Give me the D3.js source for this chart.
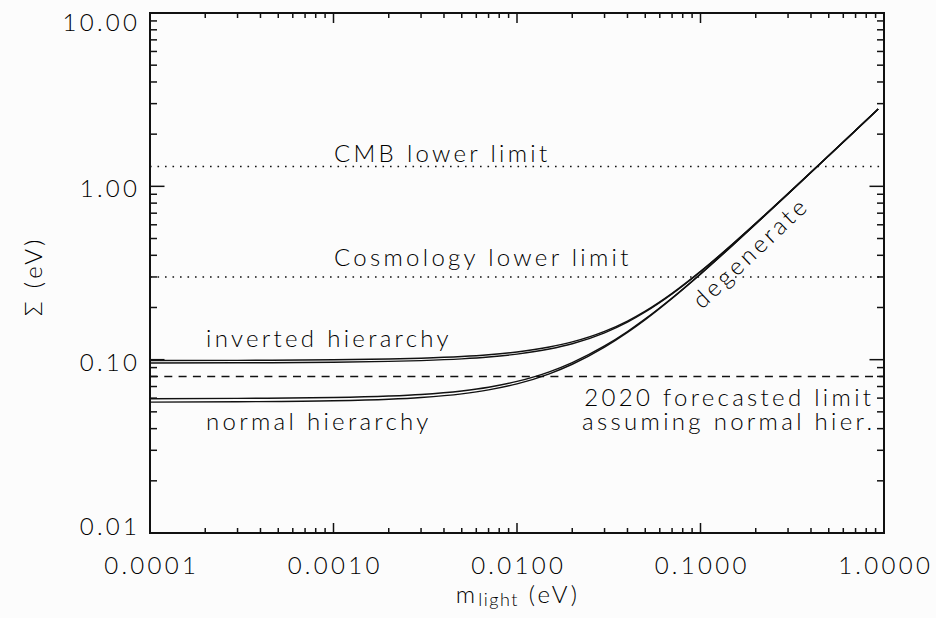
<!DOCTYPE html>
<html>
<head>
<meta charset="utf-8">
<script src="https://cdn.jsdelivr.net/npm/d3@7"></script>
<style>
  html, body { margin: 0; padding: 0; background: #fcfcfc; }
  svg { display: block; }
  text { font-family: "Lato", "DejaVu Sans", sans-serif; font-weight: 300; fill: #000; }
</style>
</head>
<body>
<div id="chart"></div>
<script>
// lightest neutrino mass (eV) sampled along the curves
const mLight = [0.0001, 0.0003, 0.001, 0.002, 0.003, 0.005, 0.007, 0.01, 0.015, 0.02,
  0.03, 0.04, 0.05, 0.07, 0.1, 0.15, 0.2, 0.3, 0.5, 0.7, 0.93];

// sum of masses (eV), two edges of each band
const invertedUpper = [0.0989, 0.0991, 0.0998, 0.1009, 0.1020, 0.1043, 0.1068, 0.1108, 0.1183, 0.1266,
  0.1456, 0.1671, 0.1906, 0.2414, 0.3231, 0.4659, 0.6120, 0.9081, 1.5049, 2.1035, 2.7926];
const invertedLower = [0.0957, 0.0959, 0.0966, 0.0977, 0.0988, 0.1011, 0.1036, 0.1077, 0.1152, 0.1236,
  0.1429, 0.1647, 0.1884, 0.2395, 0.3217, 0.4649, 0.6113, 0.9076, 1.5046, 2.1033, 2.7925];
const normalUpper = [0.0595, 0.0598, 0.0605, 0.0617, 0.0630, 0.0660, 0.0693, 0.0749, 0.0851, 0.0962,
  0.1200, 0.1454, 0.1719, 0.2269, 0.3124, 0.4585, 0.6065, 0.9044, 1.5026, 2.1019, 2.7914];
const normalLower = [0.0569, 0.0572, 0.0579, 0.0591, 0.0605, 0.0635, 0.0669, 0.0725, 0.0829, 0.0941,
  0.1182, 0.1437, 0.1703, 0.2257, 0.3115, 0.4579, 0.6060, 0.9040, 1.5024, 2.1017, 2.7913];

// horizontal limits
const limitValues = [1.3, 0.3, 0.08];
const limitStyles = ["dot", "dot", "dash"];

const xTickValues = [0.0001, 0.001, 0.01, 0.1, 1];
const xTickLabels = ["0.0001", "0.0010", "0.0100", "0.1000", "1.0000"];
const yTickValues = [0.01, 0.1, 1, 10];
const yTickLabels = ["0.01", "0.10", "1.00", "10.00"];

const W = 936, H = 618;
const margin = { left: 150, right: 52, top: 13, bottom: 85 };
const plotW = W - margin.left - margin.right;
const plotH = H - margin.top - margin.bottom;

const x = d3.scaleLog().domain([0.0001, 1]).range([0, plotW]);
const y = d3.scaleLog().domain([0.01, 10]).range([plotH, 0]);

const svg = d3.select("#chart").append("svg").attr("width", W).attr("height", H);
svg.append("rect").attr("width", W).attr("height", H).attr("fill", "#fcfcfc");

const g = svg.append("g").attr("transform", `translate(${margin.left},${margin.top})`);

const fs = 24;   // font size
const ls = 3.3;  // letter spacing (wide, like the plotting font)

// minor + major tick values for log axes
function logTicks(lo, hi) {
  const out = [];
  for (let e = Math.log10(lo); e < Math.log10(hi); e++) {
    for (let k = 1; k <= 9; k++) out.push({ v: k * Math.pow(10, e), major: k === 1 });
  }
  out.push({ v: hi, major: true });
  return out;
}
const xt = logTicks(0.0001, 1);
const yt = logTicks(0.01, 10);

const tickStroke = "#111";
// bottom + top ticks
xt.forEach(t => {
  const len = t.major ? 10 : 5;
  const px = x(t.v);
  g.append("line").attr("x1", px).attr("x2", px).attr("y1", plotH).attr("y2", plotH - len)
    .attr("stroke", tickStroke).attr("stroke-width", 1.5);
  g.append("line").attr("x1", px).attr("x2", px).attr("y1", 0).attr("y2", len)
    .attr("stroke", tickStroke).attr("stroke-width", 1.5);
});
// left + right ticks
yt.forEach(t => {
  const len = t.major ? 14.5 : 7;
  const py = y(t.v);
  g.append("line").attr("x1", 0).attr("x2", len).attr("y1", py).attr("y2", py)
    .attr("stroke", tickStroke).attr("stroke-width", 1.5);
  g.append("line").attr("x1", plotW).attr("x2", plotW - len).attr("y1", py).attr("y2", py)
    .attr("stroke", tickStroke).attr("stroke-width", 1.5);
});

// frame
g.append("rect").attr("width", plotW).attr("height", plotH)
  .attr("fill", "none").attr("stroke", "#111").attr("stroke-width", 2);

// tick labels
xTickValues.forEach((v, i) => {
  g.append("text").attr("x", x(v) + ls / 2).attr("y", plotH + 41)
    .attr("text-anchor", "middle").attr("font-size", fs).style("letter-spacing", ls + "px")
    .text(xTickLabels[i]);
});
yTickValues.forEach((v, i) => {
  const base = Math.min(Math.max(y(v) + 11, 18), plotH + 2);
  g.append("text").attr("x", -13 + ls).attr("y", base)
    .attr("text-anchor", "end").attr("font-size", fs).style("letter-spacing", ls + "px")
    .text(yTickLabels[i]);
});

// limit lines
limitValues.forEach((v, i) => {
  g.append("line").attr("x1", 0).attr("x2", plotW).attr("y1", y(v)).attr("y2", y(v))
    .attr("stroke", "#111").attr("stroke-width", 1.5)
    .attr("stroke-dasharray", limitStyles[i] === "dot" ? "1.6,5.9" : "8,6.3");
});

// curves
const line = d3.line().x(d => x(d[0])).y(d => y(d[1])).curve(d3.curveMonotoneX);
[invertedUpper, invertedLower, normalUpper, normalLower].forEach(s => {
  g.append("path").datum(mLight.map((m, i) => [m, s[i]]))
    .attr("d", line).attr("fill", "none").attr("stroke", "#111").attr("stroke-width", 1.4);
});

// annotations
function label(txt, px, py, anchor) {
  const a = anchor || "start";
  return svg.append("text").attr("x", a === "end" ? px + ls : px).attr("y", py).attr("text-anchor", a)
    .attr("font-size", fs).style("letter-spacing", ls + "px").text(txt);
}
label("CMB lower limit", 334, 162);
label("Cosmology lower limit", 334, 266);
label("inverted hierarchy", 206, 347);
label("normal hierarchy", 206, 430);
label("2020 forecasted limit", 871, 406, "end");
label("assuming normal hier.", 872, 430, "end");

const slope = Math.atan2(y(0.1) - y(1), x(1) - x(0.1)) * 180 / Math.PI;
svg.append("text").attr("transform", `translate(702,310) rotate(${-slope})`)
  .attr("font-size", fs).style("letter-spacing", ls + "px").text("degenerate");

// axis titles
const xTitle = svg.append("text").attr("x", 518).attr("y", 603).attr("text-anchor", "middle")
  .attr("font-size", fs).style("letter-spacing", ls + "px");
xTitle.append("tspan").text("m");
xTitle.append("tspan").attr("font-size", 18).style("letter-spacing", "1.5px").attr("dy", 3).text("light");
xTitle.append("tspan").attr("dy", -3).text(" (eV)");

svg.append("text").attr("transform", "translate(42,276) rotate(-90)").attr("text-anchor", "middle")
  .attr("font-size", fs).style("letter-spacing", ls + "px").text("Σ (eV)");
</script>
</body>
</html>
